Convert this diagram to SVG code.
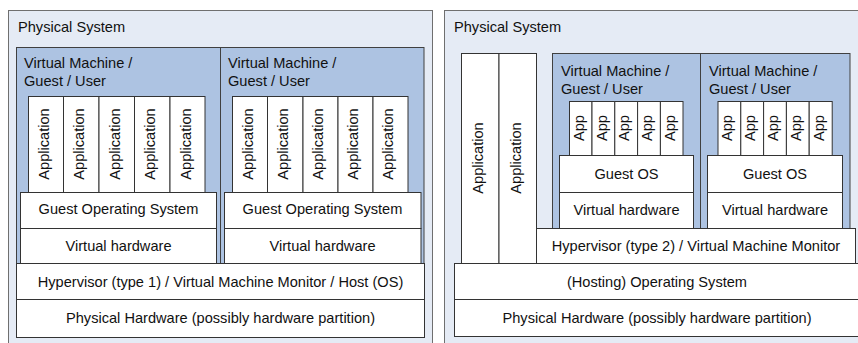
<svg xmlns="http://www.w3.org/2000/svg" width="858" height="343" viewBox="0 0 858 343">
  <style>
    .panel { fill: #e5ebf5; stroke: #6f6f6f; stroke-width: 1; }
    .vm { fill: #adc3e2; stroke: #404040; stroke-width: 1; }
    .box { fill: #ffffff; stroke: #333333; stroke-width: 1; }
    text { font-family: "Liberation Sans", Arial, sans-serif; font-size: 14.6px; fill: #111111; }
    .c { text-anchor: middle; }
  </style>

  <!-- Left: type 1 hypervisor stack -->
  <g id="left-system">
    <rect class="panel" x="8.5" y="10.5" width="424" height="345"/>
    <text x="18" y="32">Physical System</text>
  </g>

  <g id="left-vm1">
    <rect class="vm" x="16.5" y="47.5" width="204" height="216"/>
    <text x="24" y="68">Virtual Machine /</text>
    <text x="24" y="86">Guest / User</text>
    <rect class="box" x="28.5" y="96.5" width="35" height="96"/>
    <rect class="box" x="63.5" y="96.5" width="35.5" height="96"/>
    <rect class="box" x="99" y="96.5" width="35.5" height="96"/>
    <rect class="box" x="134.5" y="96.5" width="35.5" height="96"/>
    <rect class="box" x="170" y="96.5" width="35" height="96"/>
    <text class="c" transform="translate(48.5,144) rotate(-90)">Application</text>
    <text class="c" transform="translate(84,144) rotate(-90)">Application</text>
    <text class="c" transform="translate(119.5,144) rotate(-90)">Application</text>
    <text class="c" transform="translate(155,144) rotate(-90)">Application</text>
    <text class="c" transform="translate(190.5,144) rotate(-90)">Application</text>
    <rect class="box" x="20.5" y="192.5" width="196" height="36"/>
    <text class="c" x="118.5" y="214">Guest Operating System</text>
    <rect class="box" x="20.5" y="228.5" width="196" height="35"/>
    <text class="c" x="118.5" y="251">Virtual hardware</text>
  </g>

  <g id="left-vm2">
    <rect class="vm" x="220.5" y="47.5" width="203.5" height="216"/>
    <text x="228" y="68">Virtual Machine /</text>
    <text x="228" y="86">Guest / User</text>
    <rect class="box" x="232.5" y="96.5" width="35" height="96"/>
    <rect class="box" x="267.5" y="96.5" width="35.5" height="96"/>
    <rect class="box" x="303" y="96.5" width="35" height="96"/>
    <rect class="box" x="338" y="96.5" width="35" height="96"/>
    <rect class="box" x="373" y="96.5" width="35" height="96"/>
    <text class="c" transform="translate(252.5,144) rotate(-90)">Application</text>
    <text class="c" transform="translate(288,144) rotate(-90)">Application</text>
    <text class="c" transform="translate(323,144) rotate(-90)">Application</text>
    <text class="c" transform="translate(358,144) rotate(-90)">Application</text>
    <text class="c" transform="translate(393,144) rotate(-90)">Application</text>
    <rect class="box" x="224.5" y="192.5" width="196.5" height="36"/>
    <text class="c" x="322.5" y="214">Guest Operating System</text>
    <rect class="box" x="224.5" y="228.5" width="196.5" height="35"/>
    <text class="c" x="322.5" y="251">Virtual hardware</text>
  </g>

  <g id="left-hypervisor">
    <rect class="box" x="16.5" y="263.5" width="408" height="36"/>
    <text class="c" x="220.5" y="286.5">Hypervisor (type 1) / Virtual Machine Monitor / Host (OS)</text>
  </g>

  <g id="left-hardware">
    <rect class="box" x="16.5" y="299.5" width="408" height="38"/>
    <text class="c" x="220.5" y="322.5">Physical Hardware (possibly hardware partition)</text>
  </g>

  <!-- Right: type 2 hypervisor stack -->
  <g id="right-system">
    <rect class="panel" x="444.5" y="10.5" width="420" height="345"/>
    <text x="454" y="32">Physical System</text>
  </g>

  <g id="right-host-apps">
    <rect class="box" x="461.5" y="53.5" width="37.5" height="210"/>
    <rect class="box" x="499" y="53.5" width="37.5" height="210"/>
    <text class="c" transform="translate(483,158) rotate(-90)">Application</text>
    <text class="c" transform="translate(520.5,158) rotate(-90)">Application</text>
  </g>

  <g id="right-vm1">
    <rect class="vm" x="552.5" y="53.5" width="148" height="175"/>
    <text x="561" y="76">Virtual Machine /</text>
    <text x="561" y="93.5">Guest / User</text>
    <rect class="box" x="569.5" y="101.5" width="22.5" height="54"/>
    <rect class="box" x="592" y="101.5" width="22.8" height="54"/>
    <rect class="box" x="614.8" y="101.5" width="22.8" height="54"/>
    <rect class="box" x="637.6" y="101.5" width="22.8" height="54"/>
    <rect class="box" x="660.4" y="101.5" width="22.6" height="54"/>
    <text class="c" transform="translate(583.8,128) rotate(-90)">App</text>
    <text class="c" transform="translate(606.6,128) rotate(-90)">App</text>
    <text class="c" transform="translate(629.4,128) rotate(-90)">App</text>
    <text class="c" transform="translate(652.2,128) rotate(-90)">App</text>
    <text class="c" transform="translate(675,128) rotate(-90)">App</text>
    <rect class="box" x="559.5" y="155.5" width="134" height="37"/>
    <text class="c" x="626.5" y="178.5">Guest OS</text>
    <rect class="box" x="559.5" y="192.5" width="134" height="36"/>
    <text class="c" x="626.5" y="215">Virtual hardware</text>
  </g>

  <g id="right-vm2">
    <rect class="vm" x="700.5" y="53.5" width="149.5" height="175"/>
    <text x="709" y="76">Virtual Machine /</text>
    <text x="709" y="93.5">Guest / User</text>
    <rect class="box" x="718" y="101.5" width="22.8" height="54"/>
    <rect class="box" x="740.8" y="101.5" width="22.8" height="54"/>
    <rect class="box" x="763.6" y="101.5" width="22.8" height="54"/>
    <rect class="box" x="786.4" y="101.5" width="22.8" height="54"/>
    <rect class="box" x="809.2" y="101.5" width="23" height="54"/>
    <text class="c" transform="translate(732.4,128) rotate(-90)">App</text>
    <text class="c" transform="translate(755.2,128) rotate(-90)">App</text>
    <text class="c" transform="translate(778,128) rotate(-90)">App</text>
    <text class="c" transform="translate(800.8,128) rotate(-90)">App</text>
    <text class="c" transform="translate(823.7,128) rotate(-90)">App</text>
    <rect class="box" x="707.5" y="155.5" width="135" height="37"/>
    <text class="c" x="775" y="178.5">Guest OS</text>
    <rect class="box" x="707.5" y="192.5" width="135" height="36"/>
    <text class="c" x="775" y="215">Virtual hardware</text>
  </g>

  <g id="right-hypervisor">
    <rect class="box" x="536.5" y="228.5" width="319" height="35"/>
    <text class="c" x="696" y="251">Hypervisor (type 2) / Virtual Machine Monitor</text>
  </g>

  <g id="right-host-os">
    <rect class="box" x="454.5" y="263.5" width="410" height="36"/>
    <text class="c" x="657" y="286.5">(Hosting) Operating System</text>
  </g>

  <g id="right-hardware">
    <rect class="box" x="454.5" y="299.5" width="410" height="37"/>
    <text class="c" x="657" y="322.5">Physical Hardware (possibly hardware partition)</text>
  </g>

  <g id="connectors"/>
</svg>
